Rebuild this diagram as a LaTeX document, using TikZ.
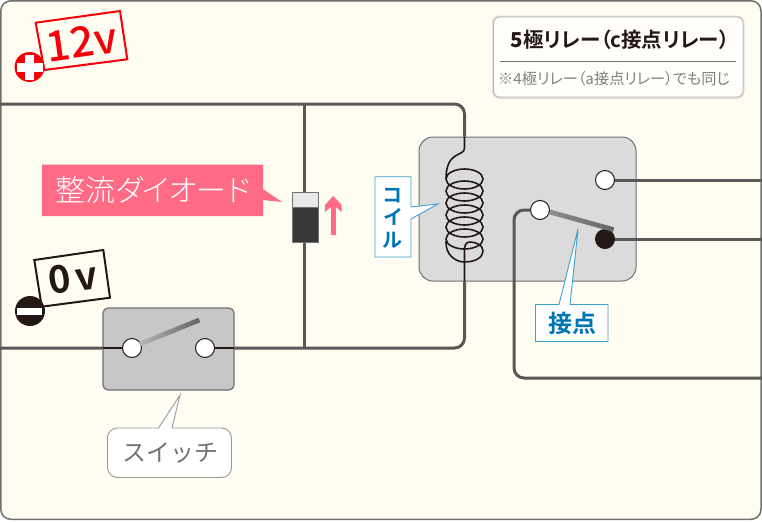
\documentclass[tikz,border=0pt]{standalone}
\usepackage{fontspec}
\setmainfont{Noto Sans CJK JP}
\newfontfamily\cjkbold{Noto Sans CJK JP Bold}[RawFeature=+palt]
\newfontfamily\cjkblack{Noto Sans CJK JP Black}[RawFeature=+palt]
\newfontfamily\cjkmed{Noto Sans CJK JP Medium}[RawFeature=+palt]
\newfontfamily\cjkreg{Noto Sans CJK JP}[RawFeature=+palt]
\newfontfamily\cjklight{Noto Sans CJK JP Light}[RawFeature=+palt]
\definecolor{bgc}{HTML}{FFFDF2}
\definecolor{framec}{HTML}{717071}
\definecolor{wirec}{HTML}{595757}
\definecolor{inkc}{HTML}{231815}
\definecolor{pinkc}{HTML}{FF6B84}
\definecolor{bluec}{HTML}{0075B5}
\definecolor{bluel}{HTML}{3EA0CF}
\definecolor{redc}{HTML}{F50008}
\tikzset{
  wire/.style={draw=wirec,line width=3pt,rounded corners=10pt},
  thinwire/.style={draw=inkc,line width=1.6pt},
  term/.style={circle,draw=inkc,line width=1pt,fill=white,minimum size=19pt,inner sep=0pt},
  bluebox/.style={draw=bluel,line width=0.9pt,fill=white,line join=miter},
  nodetext/.style={inner sep=0pt,outer sep=0pt}
}
\begin{document}
\begin{tikzpicture}[x=1pt,y=-1pt]
\useasboundingbox (0,0) rectangle (762,522);
\fill[white] (0,0) rectangle (762,522);
\draw[framec,line width=1.5pt,fill=bgc,rounded corners=10pt] (0.8,0.8) rectangle (761,519.3);

% anchors
\coordinate (wl1) at (0,104);
\coordinate (wl2) at (0,348);
\coordinate (coilin) at (464.5,137);
\coordinate (coilout) at (464.5,281);
\coordinate (junc1) at (304.5,104);
\coordinate (junc2) at (304.5,348);
\coordinate (r1) at (762,180);
\coordinate (r2) at (762,239);
\coordinate (r3) at (762,378);

% main wires
\draw[wire] (wl1) -- (464.5,104) -- (coilin);
\draw[wire] (wl2) -- (464.5,348) -- (coilout);
\draw[draw=wirec,line width=3pt] (junc1) -- (junc2);

% relay body
\node[nodetext,draw=framec,line width=1pt,fill=black!14,rounded corners=14pt,minimum width=217pt,minimum height=144pt] (relay) at (527.5,209) {};

% relay contacts
\node[term] (no) at (605,180) {};
\node[term,fill=inkc] (nc) at (605,239) {};
\node[term] (com) at (540,210) {};
\draw[wire] (com.west) -- (514,210) -- (514,378) -- (r3);
\draw[draw=wirec,line width=3pt] (no.east) -- (r1);
\draw[draw=wirec,line width=3pt] (nc.east) -- (r2);
\shade[shift={(550,212)},rotate=-15.5,left color=black!45,middle color=black!30,right color=black!60]
  (0,-2.4) rectangle (66,2.4);

% coil
\draw[thinwire,line join=round] (coilin) -- (464.5,148) .. controls (464.5,157) and (446.5,150) .. (446,178);
\foreach \i in {0,...,5}{
  \draw[thinwire] (464.5,179+12*\i) ellipse [x radius=18.5,y radius=10];
}
\draw[thinwire] (446,241) .. controls (445,254) and (455,262) .. (464.5,262) .. controls (476,262) and (483,257) .. (483,251)
  .. controls (483,245) and (476,242) .. (470,242) .. controls (466,242) and (464.5,245) .. (464.5,250) -- (coilout);

% diode
\fill[draw=black!55,line width=0.8pt,fill=black!9] (292,192.3) rectangle (318,208);
\fill[draw=black!55,line width=0.8pt,fill=wirec!65!black] (292,207.5) rectangle (318,242);
\fill[pinkc] (333.3,196) -- (341.7,205) -- (341.7,212) -- (335.8,207) -- (335.8,235) -- (331,235) -- (331,207) -- (325,212) -- (325,205) -- cycle;

% diode label
\fill[pinkc] (42,164.5) -- (263,164.5) -- (263,189) -- (282,202) -- (263,200) -- (263,216) -- (42,216) -- cycle;
\node[nodetext,text=white] (diodelabel) at (153,190) {\cjklight\fontsize{30}{32}\selectfont 整流ダイオード};

% 12v
\draw[redc,line width=2pt,fill=bgc] (35.7,22.7) -- (120,11) -- (127.3,59.3) -- (44.3,70) -- cycle;
\node[nodetext,text=redc,rotate=8] (v12) at (81.5,42) {\cjkmed\fontsize{42}{44}\selectfont 12v};
\fill[redc] (29.5,67) circle (15);
\fill[white] (17,62.5) rectangle (42.5,71.5);
\fill[white] (25,54.5) rectangle (34,80);

% 0v
\draw[inkc,line width=2pt,fill=bgc] (34.3,260) -- (103.3,250) -- (110,297.7) -- (41.7,306.7) -- cycle;
\node[nodetext,text=inkc,rotate=8] (v0) at (73,278) {\cjkbold\fontsize{38}{42}\selectfont 0\hspace{4pt}v};
\fill[inkc] (30,311) circle (15);
\fill[white] (17,308) rectangle (42,315);

% switch
\node[nodetext,draw=framec,line width=1.2pt,fill=black!22,rounded corners=5pt,minimum width=131pt,minimum height=82pt] (sw) at (168.5,349) {};
\node[term] (sa) at (132,348) {};
\node[term] (sb) at (205,348) {};
\draw[thinwire] (sw.west |- sa) -- (sa.west);
\draw[thinwire] (sb.east) -- (sw.east |- sb);
\shade[shift={(140,344)},rotate=22,left color=black!28,right color=black!62]
  (0,-2.4) rectangle (64,2.4);

% switch callout
\draw[draw=black!40,line width=0.9pt,fill=white,rounded corners=10pt]
  (107.5,428) -- (231.5,428) -- (231.5,477.5) -- (107.5,477.5) -- cycle;
\path[fill=white] (158.5,429) -- (172,429) -- (180,395) -- cycle;
\draw[draw=black!40,line width=0.9pt] (158.5,428) -- (180,395) -- (172,428);
\node[nodetext,text=black!55] (swlabel) at (170,453) {\fontsize{24}{26}\selectfont スイッチ};

% coil callout
\draw[bluebox] (375,176.7) -- (411,176.7) -- (411,207) -- (438,204) -- (411,219) -- (411,257) -- (375,257) -- cycle;
\node[nodetext,text=bluec,align=center,font=\cjkbold\fontsize{20}{22.5}\selectfont] (coillabel) at (393,218) {コ\\イ\\ル};

% contact callout
\draw[bluebox] (535.5,304.5) -- (559,304.5) -- (578,229) -- (570,304.5) -- (608,304.5) -- (608,341.5) -- (535.5,341.5) -- cycle;
\node[nodetext,text=bluec] (contactlabel) at (572,323) {\cjkbold\fontsize{24}{26}\selectfont 接点};

% legend
\draw[draw=black!12,line width=3pt,rounded corners=6pt] (493.5,17) rectangle (743,97.5);
\draw[draw=black!30,line width=0.8pt,fill=white!60!bgc,rounded corners=6pt] (493.5,17) rectangle (743,97);
\node[nodetext,text=inkc] (title) at (620,40) {\cjkbold\fontsize{20.5}{22}\selectfont {\cjkblack 5}極リレー（c接点リレー）};
\draw[draw=black!55,line width=0.8pt] (500,61) -- (736,61);
\node[nodetext,text=black!50] (note) at (614,79) {\cjkreg\fontsize{15.2}{18}\selectfont ※4極リレー（a接点リレー）でも同じ};
\end{tikzpicture}
\end{document}
